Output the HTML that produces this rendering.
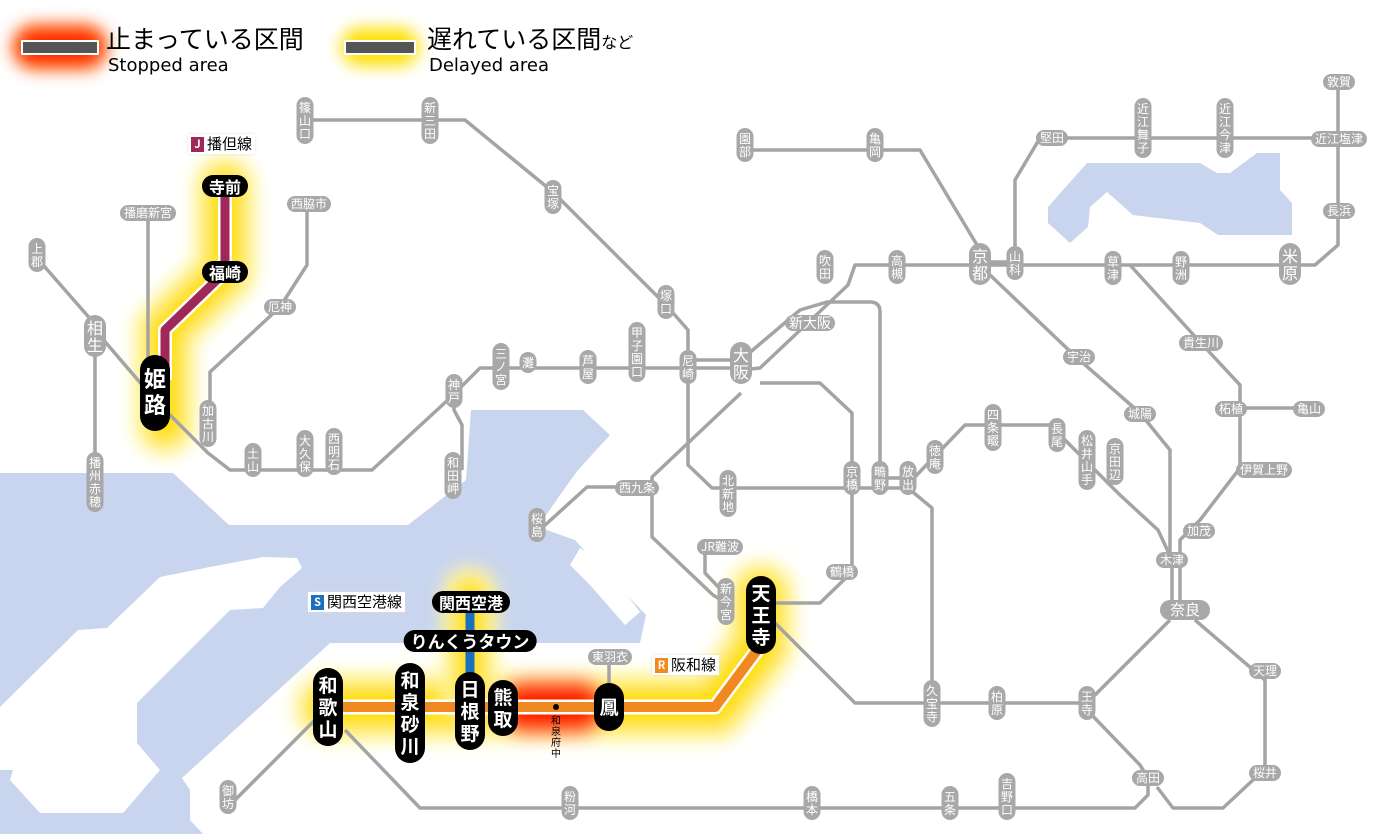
<!DOCTYPE html>
<html><head><meta charset="utf-8">
<style>
html,body{margin:0;padding:0;}
body{width:1400px;height:834px;position:relative;overflow:hidden;background:#fff;font-family:"Liberation Sans","Noto Sans CJK JP",sans-serif;}
svg{position:absolute;left:0;top:0;}
.s,.v,.b,.bv{position:absolute;text-align:center;color:#fff;white-space:nowrap;font-family:"Noto Sans CJK JP",sans-serif;}
.s{background:#a8a8a8;font-size:12px;line-height:16px;height:16px;border-radius:8px;padding:0 4px;transform:translate(-50%,-50%);}
.v{background:#a8a8a8;font-size:12px;line-height:13px;width:17px;border-radius:9px;padding:4px 0;transform:translateX(-50%);}
.b{background:#000;font-size:16px;font-weight:bold;line-height:22px;height:22px;border-radius:11px;padding:0 7px;transform:translate(-50%,-50%);}
.bv{background:#000;font-size:19px;font-weight:bold;line-height:22px;width:30px;border-radius:15px;padding:6px 0;transform:translateX(-50%);}
.big{font-size:16px;line-height:17px;width:22px;border-radius:11px;}
.lab{position:absolute;background:#fff;font-size:15px;line-height:20px;padding:0 3px;font-family:"Noto Sans CJK JP",sans-serif;color:#000;box-shadow:0 0 3px #ddd;}
.lab i{font-style:normal;display:inline-block;width:13px;height:15px;line-height:15px;color:#fff;font-size:11px;font-weight:bold;text-align:center;margin-right:3px;vertical-align:1px;}
</style></head><body>
<svg width="1400" height="834" viewBox="0 0 1400 834">
<defs>
<filter id="bl" x="-50%" y="-50%" width="200%" height="200%"><feGaussianBlur stdDeviation="8"/></filter>
</defs>
<!-- sea -->
<polygon fill="#c9d5ee" points="0,473 173,473 229,525 408,525 466,480 471,410 583,410 610,435 578,470 560,495 538,527 575,540 598,565 646,615 640,643 330,643 182,778 190,790 190,820 203,834 0,834"/>
<polygon fill="#fff" points="0,707 78,630 107,628 160,577 210,567 263,557 297,558 302,568 280,587 263,608 230,610 137,703 137,743 160,770 123,813 40,813 10,780 13,770 0,770"/>
<polygon fill="#fff" points="580,548 600,560 640,612 625,625 590,585 570,565"/>
<polygon fill="#c9d5ee" points="1048,207 1087,163 1200,163 1217,173 1230,173 1257,153 1280,153 1280,190 1292,203 1292,235 1218,235 1200,223 1133,215 1107,192 1090,207 1088,227 1070,243 1048,223"/>
<!-- glows -->
<g filter="url(#bl)" fill="none" stroke-linecap="round" stroke-linejoin="round">
<path d="M225,186 V272 L165,330 V425" stroke="#fff6a0" stroke-width="64"/>
<path d="M225,186 V272 L165,330 V425" stroke="#ffe000" stroke-width="40"/>
<path d="M761,595 V645 L715,707 H328" stroke="#fff6a0" stroke-width="70"/>
<path d="M761,595 V645 L715,707 H328" stroke="#ffe000" stroke-width="46"/>
<path d="M470,595 V690" stroke="#fff6a0" stroke-width="56"/>
<path d="M470,595 V690" stroke="#ffe000" stroke-width="34"/>
<line x1="360" y1="47" x2="400" y2="47" stroke="#ffe000" stroke-width="38"/>
<line x1="35" y1="47" x2="85" y2="47" stroke="#ff5500" stroke-width="46"/>
<line x1="35" y1="47" x2="85" y2="47" stroke="#ff1a00" stroke-width="28"/>
<line x1="525" y1="707" x2="578" y2="707" stroke="#ff5500" stroke-width="58"/>
<line x1="525" y1="707" x2="578" y2="707" stroke="#ff1a00" stroke-width="36"/>
</g>
<!-- gray lines -->
<g fill="none" stroke="#a4a4a4" stroke-width="3.5" stroke-linejoin="round">
<path d="M305,120 H465 L553,192 L666,305 L688,330 V465 L712,488 H908"/>
<line x1="37" y1="258" x2="100" y2="330"/>
<path d="M95,330 L155,400 L208,453 L230,470 H372 L450,398 L480,368 H741"/>
<path d="M95,340 V500"/>
<path d="M148,213 V360"/>
<path d="M307,204 V265 L280,307 L210,372 V440"/>
<path d="M454,398 L454,410 L462,425 V470"/>
<path d="M741,370 L760,368 L848,285 L855,265 H1315 L1338,245 V82"/>
<path d="M690,360 H741"/>
<path d="M741,360 L800,310 L827,302 H870 Q880,302 880,312 V488"/>
<path d="M760,383 H820 L852,413 V572 L820,603 H761"/>
<path d="M741,393 L652,477 V537 L713,595 L726,603"/>
<path d="M652,487 H587 L543,527"/>
<path d="M705,547 V573 L726,595"/>
<path d="M908,478 H880 M908,488 L932,508 V680 M932,700 V703"/>
<path d="M910,482 L965,425 H1050 L1070,445 L1120,495 L1158,530 L1172,560 V610"/>
<path d="M770,618 L855,703 H1087 L1170,620"/>
<path d="M745,150 H920 L980,250"/>
<path d="M1015,260 V180 L1040,138 H1340"/>
<path d="M990,275 L1075,356 L1140,413 L1170,450 V560"/>
<path d="M1130,265 L1200,342 L1240,385 V408 H1310 M1240,408 V468 L1200,520 L1180,540 V610"/>
<path d="M1195,620 L1265,680 V773 L1253,780 L1223,808 H1173 L1157,787 M1087,710 L1140,765 L1148,778 V795 L1135,808 H420 L345,730"/>
<path d="M315,720 L235,800"/>
<path d="M990,262 H1015"/>
<line x1="609" y1="657" x2="609" y2="683"/>
</g>
<!-- colored lines -->
<g fill="none" stroke-linecap="butt" stroke-linejoin="round">
<path d="M225,186 V272 L165,330 V380" stroke="#fff" stroke-width="14"/>
<path d="M225,186 V272 L165,330 V380" stroke="#a02858" stroke-width="9"/>
<path d="M761,600 V645 L715,707 H328" stroke="#fff" stroke-width="15"/>
<path d="M761,600 V645 L715,707 H328" stroke="#f08a20" stroke-width="10"/>
<path d="M470,600 V690" stroke="#1a6fc0" stroke-width="9"/>
<rect x="22" y="41" width="76" height="13" fill="#555" stroke="#fff" stroke-width="2"/>
<rect x="345" y="41" width="70" height="13" fill="#555" stroke="#fff" stroke-width="2"/>
<circle cx="556" cy="707" r="3" fill="#000"/>
</g>
</svg>

<div style="position:absolute;left:106px;top:22px;font-size:25px;line-height:32px;font-family:'Noto Sans CJK JP',sans-serif;">止まっている区間</div>
<div style="position:absolute;left:108px;top:55px;font-size:18px;line-height:21px;font-family:'DejaVu Sans',sans-serif;">Stopped area</div>
<div style="position:absolute;left:427px;top:22px;font-size:25px;line-height:32px;font-family:'Noto Sans CJK JP',sans-serif;">遅れている区間<span style="font-size:16px">など</span></div>
<div style="position:absolute;left:429px;top:55px;font-size:18px;line-height:21px;font-family:'DejaVu Sans',sans-serif;">Delayed area</div>

<div class="lab" style="left:188px;top:134px;"><i style="background:#a02858">J</i>播但線</div>
<div class="lab" style="left:308px;top:592px;"><i style="background:#1a6fc0">S</i>関西空港線</div>
<div class="lab" style="left:652px;top:655px;"><i style="background:#f08a20">R</i>阪和線</div>

<div class="v" style="left:305px;top:97px">篠<br>山<br>口</div>
<div class="v" style="left:430px;top:97px">新<br>三<br>田</div>
<div class="v" style="left:553px;top:180px">宝<br>塚</div>
<div class="v" style="left:745px;top:128px">園<br>部</div>
<div class="v" style="left:875px;top:128px">亀<br>岡</div>
<div class="v" style="left:1143px;top:98px">近<br>江<br>舞<br>子</div>
<div class="v" style="left:1225px;top:98px">近<br>江<br>今<br>津</div>
<div class="v big" style="left:1290px;top:243px">米<br>原</div>
<div class="v" style="left:1181px;top:251px">野<br>洲</div>
<div class="v" style="left:1113px;top:251px">草<br>津</div>
<div class="v" style="left:1015px;top:246px">山<br>科</div>
<div class="v big" style="left:980px;top:243px">京<br>都</div>
<div class="v" style="left:897px;top:250px">高<br>槻</div>
<div class="v" style="left:825px;top:250px">吹<br>田</div>
<div class="v" style="left:666px;top:285px">塚<br>口</div>
<div class="v" style="left:688px;top:350px">尼<br>崎</div>
<div class="v big" style="left:741px;top:342px">大<br>阪</div>
<div class="v" style="left:637px;top:322px">甲<br>子<br>園<br>口</div>
<div class="v" style="left:588px;top:350px">芦<br>屋</div>
<div class="v" style="left:528px;top:352px">灘</div>
<div class="v" style="left:501px;top:343px">三<br>ノ<br>宮</div>
<div class="v" style="left:454px;top:374px">神<br>戸</div>
<div class="v" style="left:453px;top:452px">和<br>田<br>岬</div>
<div class="v" style="left:334px;top:428px">西<br>明<br>石</div>
<div class="v" style="left:305px;top:430px">大<br>久<br>保</div>
<div class="v" style="left:253px;top:443px">土<br>山</div>
<div class="v" style="left:208px;top:400px">加<br>古<br>川</div>
<div class="v" style="left:37px;top:238px">上<br>郡</div>
<div class="v big" style="left:95px;top:315px">相<br>生</div>
<div class="v" style="left:95px;top:452px">播<br>州<br>赤<br>穂</div>
<div class="v" style="left:537px;top:508px">桜<br>島</div>
<div class="v" style="left:728px;top:470px">北<br>新<br>地</div>
<div class="v" style="left:852px;top:461px">京<br>橋</div>
<div class="v" style="left:880px;top:461px">鴫<br>野</div>
<div class="v" style="left:908px;top:461px">放<br>出</div>
<div class="v" style="left:935px;top:440px">徳<br>庵</div>
<div class="v" style="left:993px;top:404px">四<br>条<br>畷</div>
<div class="v" style="left:1057px;top:418px">長<br>尾</div>
<div class="v" style="left:1087px;top:430px">松<br>井<br>山<br>手</div>
<div class="v" style="left:1115px;top:438px">京<br>田<br>辺</div>
<div class="v" style="left:1087px;top:686px">王<br>寺</div>
<div class="v" style="left:997px;top:686px">柏<br>原</div>
<div class="v" style="left:932px;top:680px">久<br>宝<br>寺</div>
<div class="v" style="left:726px;top:578px">新<br>今<br>宮</div>
<div class="v" style="left:228px;top:780px">御<br>坊</div>
<div class="v" style="left:570px;top:786px">粉<br>河</div>
<div class="v" style="left:812px;top:786px">橋<br>本</div>
<div class="v" style="left:950px;top:786px">五<br>条</div>
<div class="v" style="left:1007px;top:773px">吉<br>野<br>口</div>

<div class="s" style="left:1052px;top:138px">堅田</div>
<div class="s" style="left:1339px;top:82px">敦賀</div>
<div class="s" style="left:1339px;top:139px">近江塩津</div>
<div class="s" style="left:1339px;top:211px">長浜</div>
<div class="s" style="left:810px;top:323px;font-size:14px">新大阪</div>
<div class="s" style="left:280px;top:307px">厄神</div>
<div class="s" style="left:309px;top:204px">西脇市</div>
<div class="s" style="left:148px;top:213px">播磨新宮</div>
<div class="s" style="left:637px;top:488px">西九条</div>
<div class="s" style="left:1079px;top:357px">宇治</div>
<div class="s" style="left:1140px;top:414px">城陽</div>
<div class="s" style="left:1201px;top:343px">貴生川</div>
<div class="s" style="left:1231px;top:409px">柘植</div>
<div class="s" style="left:1309px;top:409px">亀山</div>
<div class="s" style="left:1264px;top:470px">伊賀上野</div>
<div class="s" style="left:1199px;top:531px">加茂</div>
<div class="s" style="left:1172px;top:560px">木津</div>
<div class="s" style="left:1185px;top:610px;font-size:15px;height:20px;line-height:20px;border-radius:10px;padding:0 10px">奈良</div>
<div class="s" style="left:1265px;top:671px">天理</div>
<div class="s" style="left:1265px;top:773px">桜井</div>
<div class="s" style="left:1148px;top:778px">高田</div>
<div class="s" style="left:842px;top:572px">鶴橋</div>
<div class="s" style="left:720px;top:547px">JR難波</div>
<div class="s" style="left:610px;top:657px">東羽衣</div>

<div class="b" style="left:225px;top:186px">寺前</div>
<div class="b" style="left:225px;top:272px">福崎</div>
<div class="bv" style="left:155px;top:355px;font-size:22px;line-height:26px;padding:10px 0 14px">姫<br>路</div>
<div class="b" style="left:471px;top:602px">関西空港</div>
<div class="b" style="left:470px;top:641px;font-size:17px">りんくうタウン</div>
<div class="bv" style="left:761px;top:576px">天<br>王<br>寺</div>
<div class="bv" style="left:609px;top:683px;padding:13px 0">鳳</div>
<div class="bv" style="left:503px;top:680px">熊<br>取</div>
<div class="bv" style="left:470px;top:672px">日<br>根<br>野</div>
<div class="bv" style="left:410px;top:663px">和<br>泉<br>砂<br>川</div>
<div class="bv" style="left:328px;top:668px">和<br>歌<br>山</div>
<div style="position:absolute;left:550px;top:714px;font-size:10px;line-height:11px;width:12px;text-align:center;font-family:'Noto Sans CJK JP',sans-serif;">和<br>泉<br>府<br>中</div>
</body></html>
